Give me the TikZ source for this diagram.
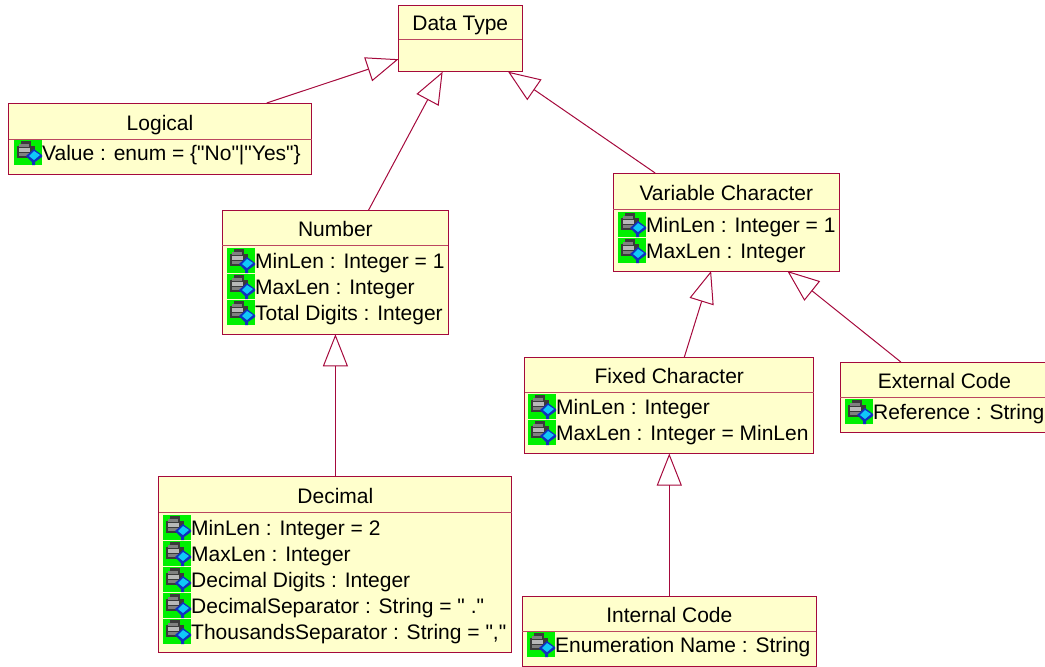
\documentclass[tikz,border=0pt]{standalone}
\usepackage{fontspec}
\setmainfont{Liberation Sans}[Ligatures=TeXOff]
\usetikzlibrary{arrows.meta}
\definecolor{umlline}{HTML}{A5093C}
\definecolor{umlfill}{HTML}{FFFFCC}
\definecolor{icongreen}{HTML}{00F000}
\definecolor{icongrey}{HTML}{808080}
\definecolor{icondark}{HTML}{3A3A3A}
\definecolor{iconlight}{HTML}{B8B8B8}
\definecolor{iconblue}{HTML}{1030C0}
\definecolor{iconcyan}{HTML}{10C8F8}
\tikzset{
  classbox/.style={draw=umlline, fill=umlfill, line width=1pt, inner sep=0pt, outer sep=0pt},
  classline/.style={draw=umlline!75!umlfill, line width=1pt},
  classtitle/.style={anchor=base, inner sep=0pt, font=\fontsize{21}{24}\selectfont},
  attrtext/.style={anchor=base west, inner sep=0pt, font=\fontsize{21}{24}\selectfont},
  inherit/.style={draw=umlline, line width=1pt, -{Triangle[open, length=32pt, width=25pt]}},
  pics/attricon/.style={code={
    \fill[icongreen] (0,0) rectangle (28,25);
    \fill[icondark] (7,1) rectangle (17,6);
    \fill[icondark] (3,6) rectangle (21,18);
    \fill[icongrey] (5,4) rectangle (15,7);
    \fill[iconlight] (5,8) rectangle (16,12);
    \fill[icongrey] (5,13) rectangle (16,16);
    \fill[iconblue] (12,16) -- (20,9) -- (28,15) -- (28,17) -- (21,22) -- (21,25) -- (18,25) -- (18,22) -- cycle;
    \fill[iconcyan] (15,16) -- (20,11) -- (26,15) -- (20,20) -- cycle;
  }}
}
\newcommand{\attrrow}[4]{% name, left, top, text
  \pic at (#2,#3) {attricon};
  \node (#1) [attrtext] at (#2+28,#3+20) {#4};
}
\newcommand{\classhead}[3]{% name, title, height of the title part
  \draw[classline] ([yshift=-#3pt]#1.north west) -- ([yshift=-#3pt]#1.north east);
  \node (#1title) [classtitle] at ([yshift={-(#3pt)+9pt}]#1.north) {#2};
}
\begin{document}
\begin{tikzpicture}[x=1pt, y=-1pt]
    \useasboundingbox (0,0) rectangle (1045,667);

    % Classes
    \node (datatype) [classbox, minimum width=123.5pt, minimum height=66pt] at (460.25,38.7) {};
    \node (logical) [classbox, minimum width=303pt, minimum height=71pt] at (160,138.5) {};
    \node (number) [classbox, minimum width=226pt, minimum height=124pt] at (335.4,272.3) {};
    \node (varchar) [classbox, minimum width=226pt, minimum height=98pt] at (726.3,222) {};
    \node (fixedchar) [classbox, minimum width=289pt, minimum height=96pt] at (669.3,405.5) {};
    \node (extcode) [classbox, minimum width=209pt, minimum height=70pt] at (944.5,397) {};
    \node (decimal) [classbox, minimum width=353pt, minimum height=176pt] at (335.4,564) {};
    \node (intcode) [classbox, minimum width=294pt, minimum height=70pt] at (669.3,631) {};

    % Inheritance
    \draw[inherit] (logical) -- (datatype);
    \draw[inherit] (number) -- (datatype);
    \draw[inherit] (varchar) -- (datatype);
    \draw[inherit] (fixedchar) -- (varchar);
    \draw[inherit] (extcode) -- (varchar);
    \draw[inherit] (decimal) -- (number);
    \draw[inherit] (intcode) -- (fixedchar);

    % Title parts
    \classhead{datatype}{Data Type}{34}
    \classhead{logical}{Logical}{36}
    \classhead{number}{Number}{35}
    \classhead{varchar}{Variable Character}{36}
    \classhead{fixedchar}{Fixed Character}{35}
    \classhead{extcode}{External Code}{35}
    \classhead{decimal}{Decimal}{36}
    \classhead{intcode}{Internal Code}{35}

    % Attributes
    \attrrow{logicalvalue}{14}{140}{Value : enum = \{"No"|"Yes"\}}
    \attrrow{numbermin}{227}{248}{MinLen : Integer = 1}
    \attrrow{numbermax}{227}{274}{MaxLen : Integer}
    \attrrow{numberdigits}{227}{300}{Total Digits : Integer}
    \attrrow{varcharmin}{618}{212}{MinLen : Integer = 1}
    \attrrow{varcharmax}{618}{238}{MaxLen : Integer}
    \attrrow{fixedcharmin}{528}{394}{MinLen : Integer}
    \attrrow{fixedcharmax}{528}{420}{MaxLen : Integer = MinLen}
    \attrrow{extcoderef}{845}{399}{Reference : String}
    \attrrow{decimalmin}{163}{515}{MinLen : Integer = 2}
    \attrrow{decimalmax}{163}{541}{MaxLen : Integer}
    \attrrow{decimaldigits}{163}{567}{Decimal Digits : Integer}
    \attrrow{decimalsep}{163}{593}{DecimalSeparator : String = " ."}
    \attrrow{decimalthou}{163}{619}{ThousandsSeparator : String = ","}
    \attrrow{intcodename}{527}{632}{Enumeration Name : String}
\end{tikzpicture}
\end{document}
